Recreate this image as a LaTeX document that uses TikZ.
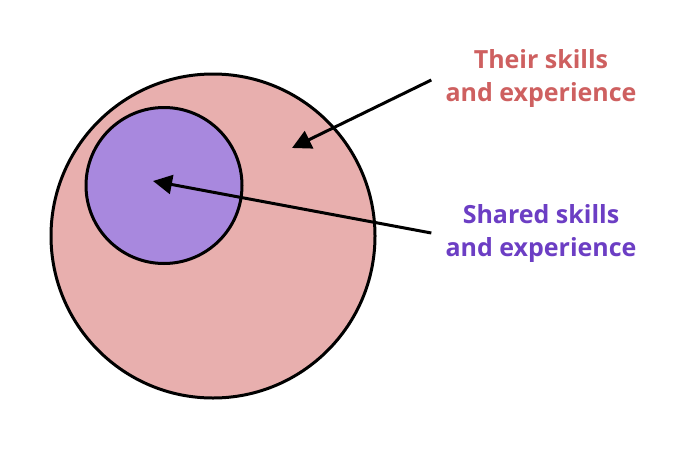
\documentclass[tikz,border=0pt]{standalone}
\usepackage{fontspec}
\setmainfont{Open Sans}
\usepackage{tikz}
\usetikzlibrary{arrows.meta}
\definecolor{theirfill}{RGB}{232,175,174}
\definecolor{sharedfill}{RGB}{168,136,222}
\definecolor{theirtext}{RGB}{206,96,96}
\definecolor{sharedtext}{RGB}{108,62,196}
\tikzset{%
  tipA/.tip={Triangle[length=19pt,width=19pt]},
  setcircle/.style={circle, draw=black, line width=3pt, inner sep=0pt},
  setlabel/.style={align=center, inner sep=0pt, font=\fontsize{25}{33}\selectfont\bfseries},
  pointer/.style={line width=3pt, -tipA}
}
\begin{document}
\begin{tikzpicture}[x=1pt,y=-1pt]
\useasboundingbox (0,0) rectangle (687,450);
\node[setcircle, fill=theirfill, minimum size=324pt] (their) at (213,236) {};
\node[setcircle, fill=sharedfill, minimum size=156pt] (shared) at (164,185.5) {};
\node[setlabel, text=theirtext] (theirlbl) at (541,79) {Their skills\\and experience};
\node[setlabel, text=sharedtext] (sharedlbl) at (541,234) {Shared skills\\and experience};
% arrow ends
\coordinate (theirtip) at (292,148);
\coordinate (sharedtip) at (153,181);
\draw[pointer] (theirlbl.west) ++(-14,1) -- (theirtip);
\draw[pointer] (sharedlbl.west) ++(-14,-1) -- (sharedtip);
\end{tikzpicture}
\end{document}
